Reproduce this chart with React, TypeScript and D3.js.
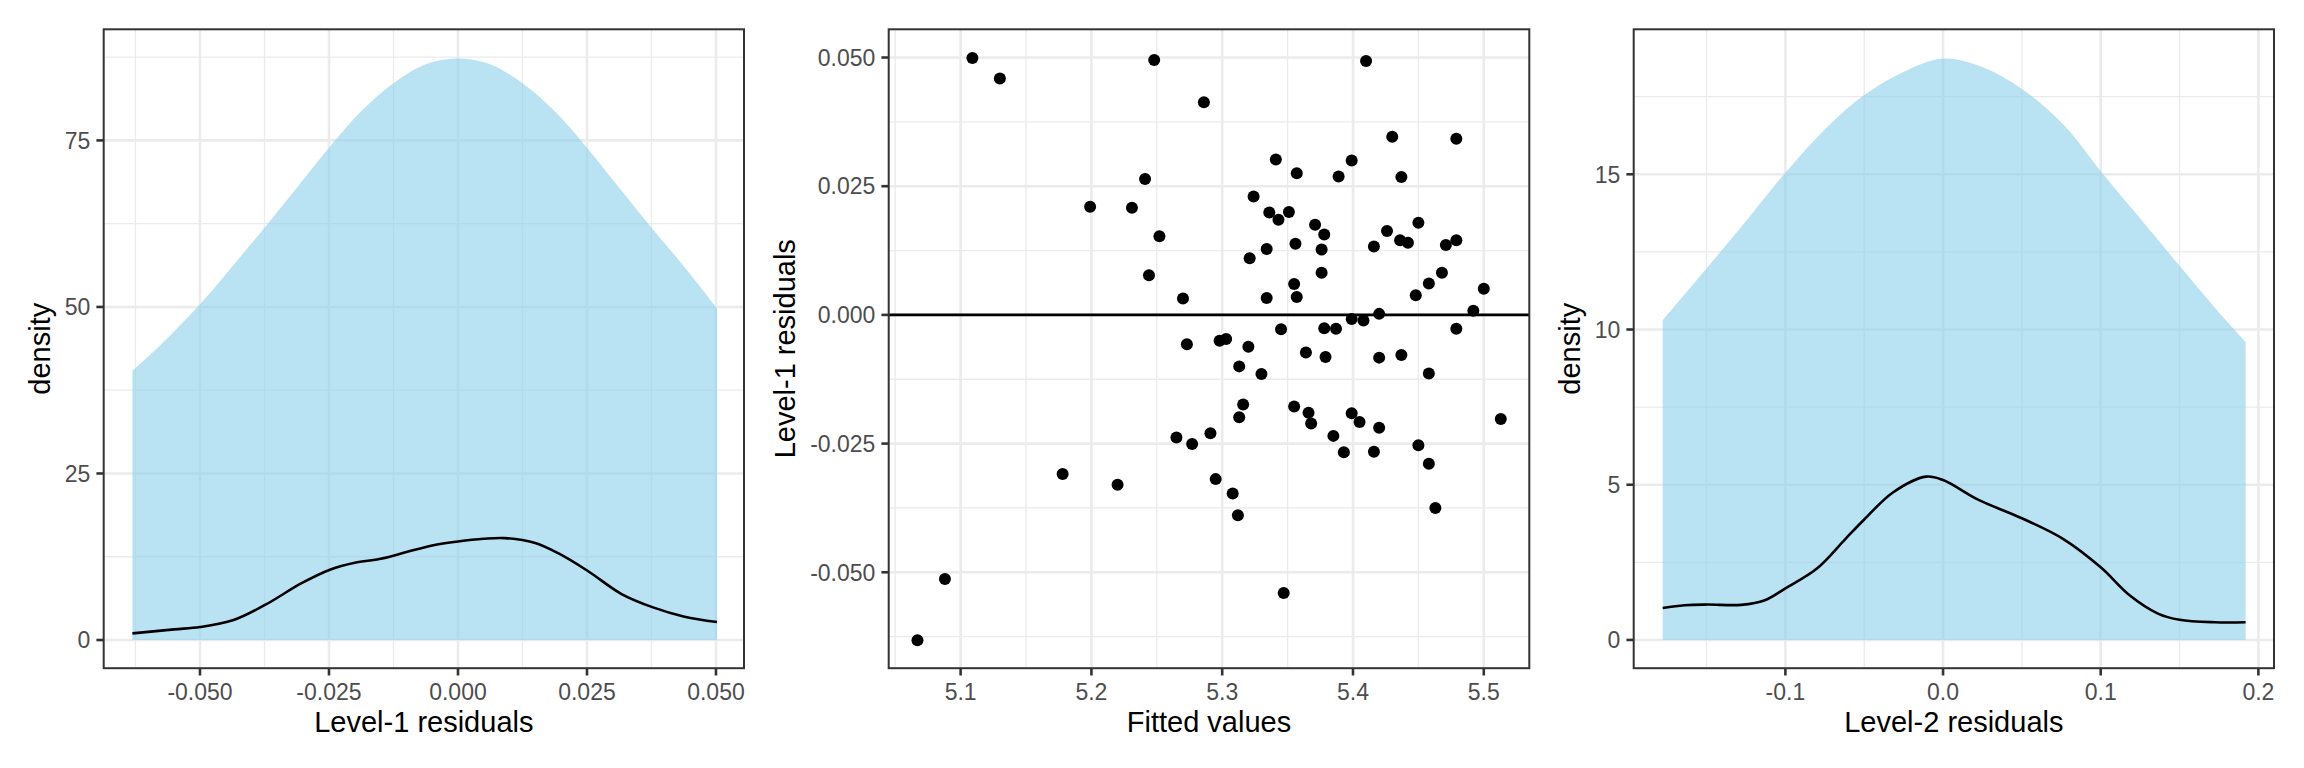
import React from "react";
import * as d3 from "d3";

const FONT = "'Liberation Sans', Arial, Helvetica, sans-serif";
const GRID = "#EBEBEB";
const INK = "#333333";
const TICK_TEXT = "#4D4D4D";
const FILL = "#87CEEB";

// panel 1: level-1 residual densities
const l1AreaX = [-0.0631, -0.0575, -0.05, -0.0435, -0.0375, -0.0305, -0.025, -0.019, -0.0125, -0.006, 0, 0.006, 0.0125, 0.019, 0.025, 0.0305, 0.0375, 0.044, 0.0502];
const l1AreaY = [40.4, 44.4, 50.4, 56.3, 61.9, 68.6, 73.9, 79.2, 83.6, 86.5, 87.3, 86.5, 83.6, 79.2, 73.9, 68.6, 61.9, 55.9, 49.8];
const l1LineX = [-0.0631, -0.055, -0.05, -0.0435, -0.0373, -0.0304, -0.0247, -0.02, -0.015, -0.01, -0.005, 0, 0.005, 0.0091, 0.0148, 0.0195, 0.0251, 0.0317, 0.0378, 0.0439, 0.0502];
const l1LineY = [1.0, 1.6, 1.95, 3.0, 5.3, 8.5, 10.6, 11.6, 12.2, 13.2, 14.2, 14.8, 15.2, 15.3, 14.6, 13.0, 10.4, 6.9, 4.9, 3.5, 2.7];
const l1XTicks = [-0.05, -0.025, 0, 0.025, 0.05];
const l1XLabels = ["-0.050", "-0.025", "0.000", "0.025", "0.050"];
const l1YTicks = [0, 25, 50, 75];
const l1YLabels = ["0", "25", "50", "75"];

// panel 2: fitted values vs level-1 residuals
const fitted = [5.109, 5.13, 5.248, 5.286, 5.41, 5.43, 5.479, 5.341, 5.399, 5.357, 5.389, 5.437, 5.241, 5.324, 5.199, 5.231, 5.336, 5.351, 5.343, 5.371, 5.45, 5.426, 5.378, 5.252, 5.436, 5.442, 5.479, 5.356, 5.471, 5.416, 5.334, 5.376, 5.321, 5.376, 5.468, 5.244, 5.355, 5.458, 5.5, 5.448, 5.357, 5.27, 5.334, 5.492, 5.42, 5.399, 5.408, 5.345, 5.378, 5.387, 5.479, 5.303, 5.298, 5.273, 5.32, 5.364, 5.379, 5.42, 5.437, 5.313, 5.33, 5.458, 5.316, 5.355, 5.366, 5.399, 5.513, 5.313, 5.405, 5.368, 5.42, 5.291, 5.265, 5.385, 5.277, 5.45, 5.393, 5.416, 5.458, 5.178, 5.295, 5.22, 5.308, 5.463, 5.312, 5.088, 5.347, 5.067];
const resid1 = [0.0499, 0.0459, 0.0495, 0.0413, 0.0493, 0.0346, 0.0342, 0.0302, 0.03, 0.0275, 0.0269, 0.0268, 0.0264, 0.023, 0.021, 0.0208, 0.0199, 0.02, 0.0185, 0.0175, 0.0179, 0.0163, 0.0156, 0.0153, 0.0145, 0.014, 0.0145, 0.0138, 0.0136, 0.0133, 0.0128, 0.0127, 0.011, 0.0082, 0.0082, 0.0077, 0.006, 0.0061, 0.0051, 0.0038, 0.0035, 0.0032, 0.0033, 0.0008, 0.0002, -0.0008, -0.0011, -0.0028, -0.0026, -0.0027, -0.0027, -0.0047, -0.005, -0.0057, -0.0062, -0.0073, -0.0082, -0.0083, -0.0078, -0.01, -0.0115, -0.0114, -0.0174, -0.0178, -0.019, -0.0191, -0.0202, -0.0199, -0.0208, -0.0211, -0.0219, -0.023, -0.0238, -0.0235, -0.0251, -0.0253, -0.0267, -0.0266, -0.0289, -0.0309, -0.0319, -0.033, -0.0347, -0.0375, -0.0389, -0.0513, -0.054, -0.0632];
const fitXTicks = [5.1, 5.2, 5.3, 5.4, 5.5];
const fitXLabels = ["5.1", "5.2", "5.3", "5.4", "5.5"];
const fitYTicks = [-0.05, -0.025, 0, 0.025, 0.05];
const fitYLabels = ["-0.050", "-0.025", "0.000", "0.025", "0.050"];

// panel 3: level-2 residual densities
const l2AreaX = [-0.1778, -0.1495, -0.128, -0.1, -0.0739, -0.05, -0.0258, 0, 0.0252, 0.05, 0.0763, 0.1, 0.1243, 0.15, 0.1724, 0.1919];
const l2AreaY = [10.3, 12.0, 13.3, 15.05, 16.5, 17.55, 18.28, 18.73, 18.45, 17.75, 16.6, 15.1, 13.62, 12.05, 10.7, 9.6];
const l2LineX = [-0.1778, -0.164, -0.1495, -0.128, -0.113, -0.1, -0.08, -0.062, -0.05, -0.0318, -0.0108, 0, 0.0222, 0.05, 0.0763, 0.1, 0.1183, 0.1363, 0.15, 0.1724, 0.1919];
const l2LineY = [1.03, 1.12, 1.14, 1.13, 1.28, 1.66, 2.3, 3.25, 3.88, 4.75, 5.26, 5.15, 4.52, 3.92, 3.25, 2.34, 1.44, 0.85, 0.65, 0.57, 0.57];
const l2XTicks = [-0.1, 0, 0.1, 0.2];
const l2XLabels = ["-0.1", "0.0", "0.1", "0.2"];
const l2YTicks = [0, 5, 10, 15];
const l2YLabels = ["0", "5", "10", "15"];

const TOP = 29.3;
const BOTTOM = 668.2;
const TICK = 7.3;

type Scale = d3.ScaleLinear<number, number>;

function minors(ticks: number[], domain: number[]) {
  const step = ticks[1] - ticks[0];
  const out: number[] = [];
  for (let i = -1; i < ticks.length; i++) {
    const v = ticks[0] + step * i + step / 2;
    if (v > domain[0] && v < domain[1]) out.push(v);
  }
  return out;
}

function Panel(props: {
  left: number;
  right: number;
  xDomain: number[];
  yDomain: number[];
  xTicks: number[];
  xLabels: string[];
  yTicks: number[];
  yLabels: string[];
  xTitle: string;
  yTitle: string;
  titleGap: number;
  draw: (x: Scale, y: Scale) => React.ReactNode;
}) {
  const { left, right, xDomain, yDomain, xTicks, xLabels, yTicks, yLabels } = props;
  const x = d3.scaleLinear().domain(xDomain).range([left, right]);
  const y = d3.scaleLinear().domain(yDomain).range([BOTTOM, TOP]);
  const cx = (left + right) / 2;
  const cy = (TOP + BOTTOM) / 2;
  return (
    <g>
      {minors(xTicks, xDomain).map((v) => (
        <line key={"mx" + v} x1={x(v)} x2={x(v)} y1={TOP} y2={BOTTOM} stroke={GRID} strokeWidth={1.3} />
      ))}
      {minors(yTicks, yDomain).map((v) => (
        <line key={"my" + v} x1={left} x2={right} y1={y(v)} y2={y(v)} stroke={GRID} strokeWidth={1.3} />
      ))}
      {xTicks.map((v) => (
        <line key={"gx" + v} x1={x(v)} x2={x(v)} y1={TOP} y2={BOTTOM} stroke={GRID} strokeWidth={2.6} />
      ))}
      {yTicks.map((v) => (
        <line key={"gy" + v} x1={left} x2={right} y1={y(v)} y2={y(v)} stroke={GRID} strokeWidth={2.6} />
      ))}
      {props.draw(x, y)}
      <rect x={left} y={TOP} width={right - left} height={BOTTOM - TOP} fill="none" stroke={INK} strokeWidth={2} />
      {xTicks.map((v, i) => (
        <g key={"tx" + v}>
          <line x1={x(v)} x2={x(v)} y1={BOTTOM} y2={BOTTOM + TICK} stroke={INK} strokeWidth={2.6} />
          <text x={x(v)} y={700} textAnchor="middle" fontSize={23} fill={TICK_TEXT}>
            {xLabels[i]}
          </text>
        </g>
      ))}
      {yTicks.map((v, i) => (
        <g key={"ty" + v}>
          <line x1={left - TICK} x2={left} y1={y(v)} y2={y(v)} stroke={INK} strokeWidth={2.6} />
          <text x={left - TICK - 6} y={y(v)} dy="0.36em" textAnchor="end" fontSize={23} fill={TICK_TEXT}>
            {yLabels[i]}
          </text>
        </g>
      ))}
      <text x={cx} y={732} textAnchor="middle" fontSize={29} fill="#000">
        {props.xTitle}
      </text>
      <text
        transform={`translate(${left - props.titleGap},${cy}) rotate(-90)`}
        textAnchor="middle"
        fontSize={29}
        fill="#000"
      >
        {props.yTitle}
      </text>
    </g>
  );
}

function densityMarks(ax: number[], ay: number[], lx: number[], ly: number[]) {
  return (x: Scale, y: Scale) => {
    const area = d3
      .area<number>()
      .x((_, i) => x(ax[i]))
      .y0(y(0))
      .y1((d) => y(d))
      .curve(d3.curveCatmullRom.alpha(0.5));
    const line = d3
      .line<number>()
      .x((_, i) => x(lx[i]))
      .y((d) => y(d))
      .curve(d3.curveCatmullRom.alpha(0.5));
    return (
      <g>
        <path d={area(ay) || ""} fill={FILL} fillOpacity={0.58} />
        <path d={line(ly) || ""} fill="none" stroke="#000" strokeWidth={2.6} />
      </g>
    );
  };
}

export default function App() {
  return (
    <svg
      width={2304}
      height={768}
      style={{ position: "absolute", left: 0, top: 0, background: "#fff" }}
      fontFamily={FONT}
    >
      <rect width={2304} height={768} fill="#fff" />
      <Panel
        left={103.7}
        right={744}
        xDomain={[-0.06866, 0.05543]}
        yDomain={[-4.23, 91.68]}
        xTicks={l1XTicks}
        xLabels={l1XLabels}
        yTicks={l1YTicks}
        yLabels={l1YLabels}
        xTitle="Level-1 residuals"
        yTitle="density"
        titleGap={54}
        draw={densityMarks(l1AreaX, l1AreaY, l1LineX, l1LineY)}
      />
      <Panel
        left={888.7}
        right={1529.3}
        xDomain={[5.045, 5.5348]}
        yDomain={[-0.06863, 0.05548]}
        xTicks={fitXTicks}
        xLabels={fitXLabels}
        yTicks={fitYTicks}
        yLabels={fitYLabels}
        xTitle="Fitted values"
        yTitle="Level-1 residuals"
        titleGap={94}
        draw={(x, y) => (
          <g>
            {fitted.map((f, i) => (
              <circle key={i} cx={x(f)} cy={y(resid1[i])} r={6} fill="#000" />
            ))}
            <line x1={888.7} x2={1529.3} y1={y(0)} y2={y(0)} stroke="#000" strokeWidth={2.6} />
          </g>
        )}
      />
      <Panel
        left={1633.7}
        right={2274}
        xDomain={[-0.1962, 0.2099]}
        yDomain={[-0.91, 19.67]}
        xTicks={l2XTicks}
        xLabels={l2XLabels}
        yTicks={l2YTicks}
        yLabels={l2YLabels}
        xTitle="Level-2 residuals"
        yTitle="density"
        titleGap={54}
        draw={densityMarks(l2AreaX, l2AreaY, l2LineX, l2LineY)}
      />
    </svg>
  );
}
